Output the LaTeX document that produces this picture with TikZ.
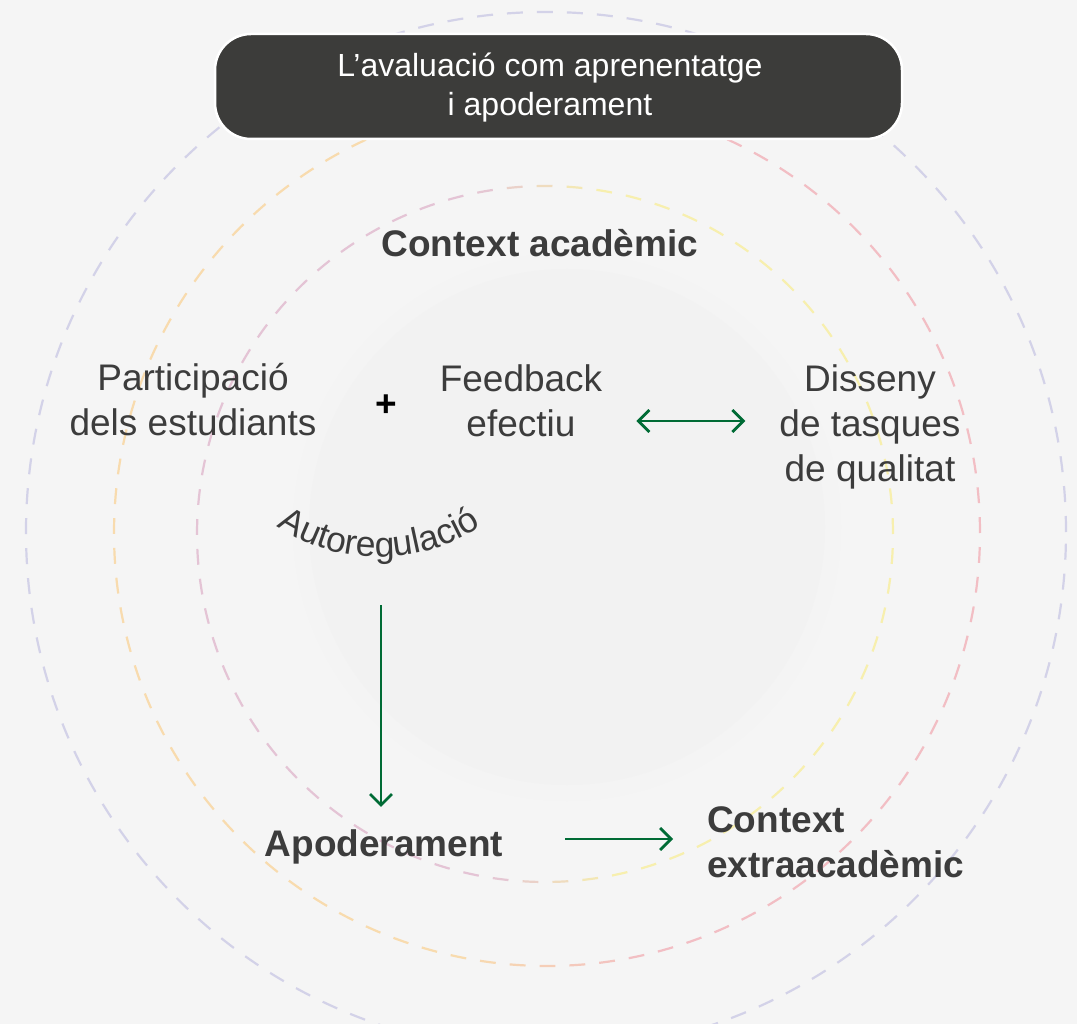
\documentclass[tikz,border=0pt]{standalone}
\usepackage{fontspec}
\setmainfont{Liberation Sans}
\usetikzlibrary{arrows.meta,decorations.text,calc}
\definecolor{bg}{HTML}{F5F5F5}
\definecolor{innerc}{HTML}{F2F2F2}
\definecolor{haloc}{HTML}{F4F4F4}
\definecolor{txt}{HTML}{3C3C3C}
\definecolor{boxc}{HTML}{3C3C3A}
\definecolor{grn}{HTML}{006B35}
\definecolor{lav}{HTML}{D3D2E8}
\definecolor{orn}{HTML}{F8DBAE}
\definecolor{pnk}{HTML}{F2BEC4}
\definecolor{mauve}{HTML}{E4C4D5}
\definecolor{yel}{HTML}{F7EFAE}
\begin{document}
\begin{tikzpicture}[x=1pt,y=-1pt,
  lbl/.style={text=txt, font=\fontsize{37}{45}\selectfont, align=center, inner sep=0pt},
  blbl/.style={text=txt, font=\fontsize{37}{45}\selectfont\bfseries, inner sep=0pt},
  conn/.style={draw=grn, line width=2.8pt, -{Straight Barb[length=11pt,width=22pt]}},
  dconn/.style={draw=grn, line width=2.8pt, {Straight Barb[length=11pt,width=22pt]}-{Straight Barb[length=11pt,width=22pt]}},
  ring/.style={line width=2.2pt}]
% background
\fill[bg] (0,0) rectangle (1077,1024);
\useasboundingbox (0,0) rectangle (1077,1024);
% inner filled circle
\fill[haloc] (567,527) circle (274pt);
\fill[innerc] (567,527) circle (258pt);
% outer lavender ring
\draw[ring, lav, dash pattern=on 16pt off 14pt] (546,532) circle (520pt);
% orange -> pink ring
\foreach \i in {0,...,90} {
  \pgfmathsetmacro\ang{\i*(360/91)}
  \pgfmathsetmacro\tt{max(-1,min(1,433*cos(\ang)/90))}
  \pgfmathtruncatemacro\mm{50+50*\tt}
  \draw[ring, color=pnk!\mm!orn] (547,533) ++(\ang:433pt) arc[start angle=\ang, end angle=\ang+2.1, radius=433pt];
}
% mauve -> yellow ring
\foreach \i in {0,...,72} {
  \pgfmathsetmacro\ang{\i*(360/73)}
  \pgfmathsetmacro\tt{max(-1,min(1,348*cos(\ang)/60))}
  \pgfmathtruncatemacro\mm{50+50*\tt}
  \draw[ring, color=yel!\mm!mauve] (545,534) ++(\ang:348pt) arc[start angle=\ang, end angle=\ang+2.6, radius=348pt];
}
% title
\node[fill=boxc, draw=white, line width=2.5pt, rounded corners=36pt,
      minimum width=687pt, minimum height=105pt, inner sep=0pt] (titlebox) at (558.5,86.5) {};
\node[text=white, font=\fontsize{32}{39}\selectfont, align=center, inner sep=0pt] (titletext) at (550,88)
  {L’avaluació com aprenentatge\\i apoderament};
% labels
\node[blbl, anchor=base] (ctxa) at (540,257) {Context acadèmic};
\node[lbl] (part) at (193,400) {Participació\\dels estudiants};
\node[font=\fontsize{37}{45}\selectfont\bfseries, text=black, inner sep=0pt] (plus) at (386,406) {+};
\node[lbl] (fb) at (521,401) {Feedback\\efectiu};
\node[lbl] (dis) at (870,426.5) {Disseny\\de tasques\\de qualitat};
\node[blbl, anchor=base] (apo) at (384,856) {Apoderament};
\node[blbl, align=left, anchor=west] (ctxe) at (707,842.5) {Context\\extraacadèmic};
% curved label
\path[decorate, decoration={text along path, text align=center, text color=txt,
  text={|\fontsize{35.5}{36}\selectfont|Autoregulació}}]
  (379,373) ++(-125:184pt) arc[start angle=-125, end angle=-55, radius=184pt];
% connectors
\coordinate (autoreg) at (381,605);
\coordinate (fby) at (0,421);
\coordinate (apy) at (0,839);
\draw[dconn] ([xshift=34pt]fb.east |- fby) -- ([xshift=-34pt]dis.west |- fby);
\draw[conn] (autoreg) -- ([yshift=22pt]autoreg |- apo.north);
\draw[conn] ([xshift=62pt]apo.east |- apy) -- ([xshift=-34pt]ctxe.west |- apy);
\end{tikzpicture}
\end{document}
